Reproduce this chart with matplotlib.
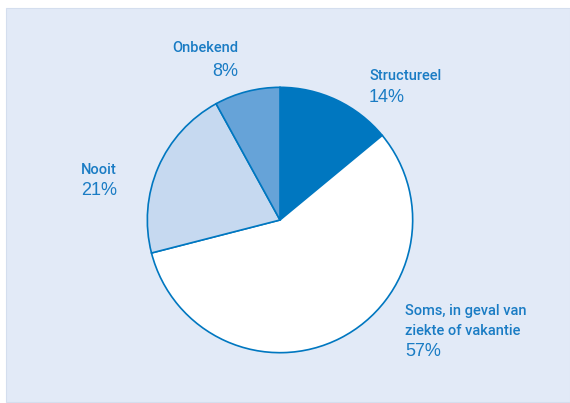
import matplotlib.pyplot as plt
import matplotlib.patches as mpatches

labels = ['Structureel', 'Soms, in geval van\nziekte of vakantie', 'Nooit', 'Onbekend']
values = [14, 57, 21, 8]
colors = ['#0077c0', '#ffffff', '#c6d9f0', '#66a3d8']

W, H = 570, 403
fig = plt.figure(figsize=(W / 100, H / 100), dpi=100)

# light blue panel
fig.patches.append(mpatches.Rectangle((6 / W, 1 - 402 / H), 1 - 6 / W, 394 / H,
                                      transform=fig.transFigure, facecolor='#e2eaf7',
                                      edgecolor='#d4deee', linewidth=0.8, zorder=-5))

cx, cy, r = 280, 220, 134
ax = fig.add_axes([(cx - r) / W, (H - cy - r) / H, 2 * r / W, 2 * r / H])
ax.set_zorder(2)
ax.pie(values, colors=colors, startangle=90, counterclock=False, radius=1,
       wedgeprops=dict(edgecolor='#0077c0', linewidth=1.2))
ax.set_xlim(-1.01, 1.01)
ax.set_ylim(-1.01, 1.01)
ax.axis('off')

tc = '#1a7cc4'
name_kw = dict(color=tc, fontsize=10.5, family=['Roboto', 'DejaVu Sans'], weight='medium')
pct_kw = dict(color=tc, fontsize=13, family='Liberation Sans')


def put(x, y, txt, ha, **kw):
    fig.text(x / W, 1 - y / H, txt, ha=ha, va='center', **kw)


# label positions (pixels)
put(238, 48, 'Onbekend', 'right', **name_kw)
put(238, 71, '8%', 'right', **pct_kw)
put(369, 76, 'Structureel', 'left', **name_kw)
put(369, 98, '14%', 'left', **pct_kw)
put(117, 170, 'Nooit', 'right', **name_kw)
put(117, 191, '21%', 'right', **pct_kw)
put(405, 311, 'Soms, in geval van', 'left', **name_kw)
put(405, 331, 'ziekte of vakantie', 'left', **name_kw)
put(405, 352, '57%', 'left', **pct_kw)

fig.savefig('out.png', dpi=100)
